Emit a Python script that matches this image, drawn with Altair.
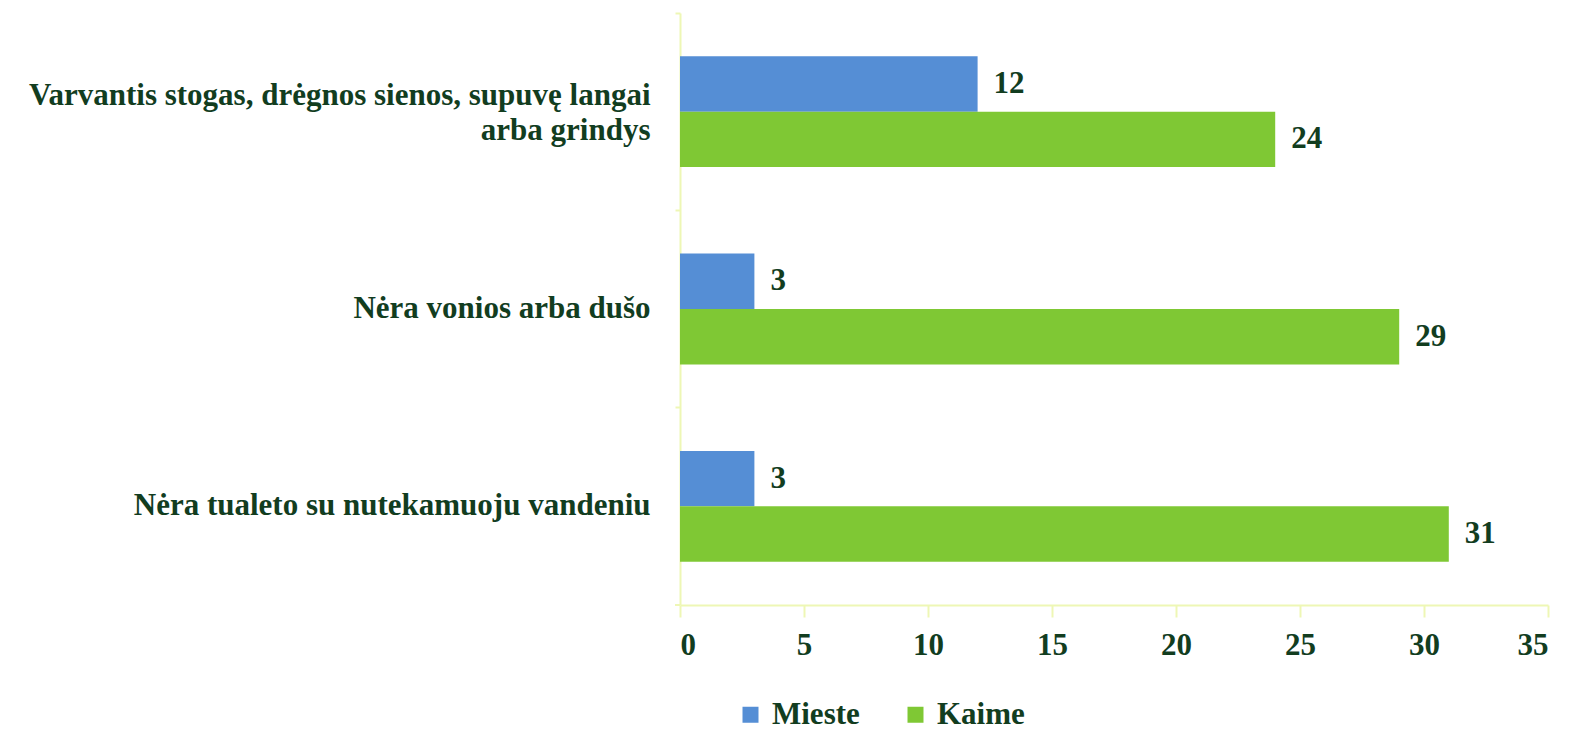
import altair as alt
import pandas as pd

categories = [
    "Varvantis stogas, drėgnos sienos, supuvę langai|arba grindys",
    "Nėra vonios arba dušo",
    "Nėra tualeto su nutekamuoju vandeniu",
]
series = ["Mieste", "Kaime"]
mieste = [12, 3, 3]
kaime = [24, 29, 31]
x_ticks = [0, 5, 10, 15, 20, 25, 30, 35]

rows = []
for c, m, k in zip(categories, mieste, kaime):
    rows.append({"cat": c, "series": "Mieste", "value": m})
    rows.append({"cat": c, "series": "Kaime", "value": k})
df = pd.DataFrame(rows)

TXT = "#123D1F"
AX = "#EEF7B5"
FONT = "Liberation Serif"
FS = 31
W, H = 868, 592

y_enc = alt.Y(
    "cat:N",
    sort=categories,
    scale=alt.Scale(paddingInner=0, paddingOuter=0),
    axis=alt.Axis(
        title=None,
        bandPosition=0,
        tickSize=5,
        tickColor=AX,
        tickWidth=2,
        domainColor=AX,
        domainWidth=2,
        labelFont=FONT,
        labelFontSize=FS,
        labelFontWeight="bold",
        labelColor=TXT,
        labelPadding=25,
        labelLimit=700,
        labelLineHeight=35,
        labelOffset={"condition": {"test": "indexof(datum.value, '|') >= 0", "value": -16}, "value": 0},
        labelExpr="split(datum.value, '|')",
    ),
)
yoff = alt.YOffset(
    "series:N", sort=series, scale=alt.Scale(paddingOuter=0.78, paddingInner=0)
)
x_enc = alt.X(
    "value:Q",
    scale=alt.Scale(domain=[0, 35], nice=False),
    axis=alt.Axis(
        title=None,
        values=x_ticks,
        grid=False,
        tickSize=12,
        tickColor=AX,
        tickWidth=2,
        domainColor=AX,
        domainWidth=2,
        labelFont=FONT,
        labelFontSize=FS,
        labelFontWeight="bold",
        labelColor=TXT,
        labelPadding=13,
    ),
)

bars = alt.Chart(df).mark_bar().encode(
    y=y_enc,
    yOffset=yoff,
    x=x_enc,
    color=alt.Color(
        "series:N",
        sort=series,
        scale=alt.Scale(domain=series, range=["#558ED5", "#7FC834"]),
        legend=alt.Legend(
            title=None,
            orient="none",
            legendX=55,
            legendY=686,
            direction="horizontal",
            symbolType="square",
            symbolSize=256,
            symbolStrokeWidth=0,
            labelFont=FONT,
            labelFontSize=FS,
            labelFontWeight="bold",
            labelColor=TXT,
            labelOffset=6,
            columnPadding=40,
        ),
    ),
)

labels = alt.Chart(df).mark_text(
    align="left", baseline="middle", dx=16, font=FONT, fontSize=FS,
    fontWeight="bold", color=TXT
).encode(
    y=alt.Y("cat:N", sort=categories),
    yOffset=alt.YOffset("series:N", sort=series),
    x="value:Q",
    text="value:Q",
)

bottom_tick = alt.Chart(pd.DataFrame({"a": [0]})).mark_rule(
    color=AX, strokeWidth=2
).encode(x=alt.value(-5), x2=alt.value(0), y=alt.value(H))

chart = (
    alt.layer(bars, labels, bottom_tick)
    .properties(
        width=W,
        height=H,
        autosize=alt.AutoSizeParams(type="none"),
        padding={"left": 672, "top": 5, "right": 27, "bottom": 129},
    )
    .configure_view(stroke=None)
)

chart.save("out.html", embed_options={"renderer": "svg", "actions": False})
